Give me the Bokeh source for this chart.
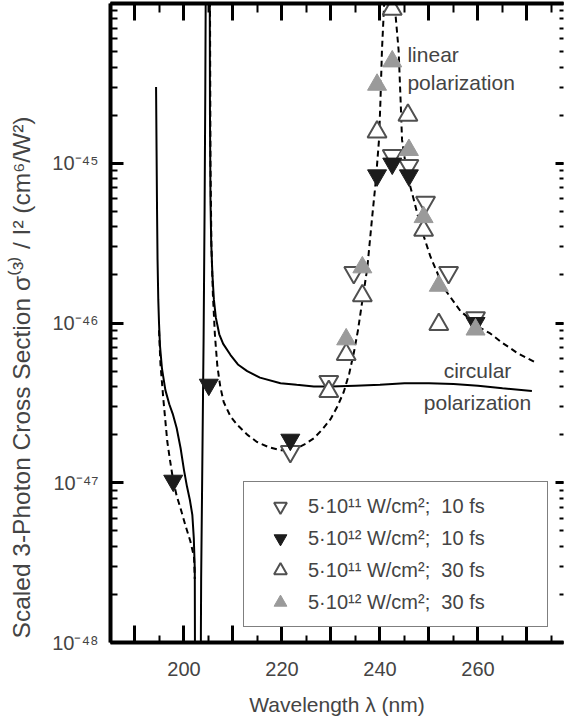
import numpy as np
from bokeh.plotting import figure
from bokeh.models import (Range1d, LinearAxis, LogAxis, LogTicker, SingleIntervalTicker,
                          CustomJSTickFormatter, Legend, LegendItem, Label)
from bokeh.embed import file_html
from bokeh.resources import INLINE

FONT = "Liberation Sans"

# ---------------- data ----------------
# 5e11 W/cm^2, 10 fs (open down triangles)
lam_a = [221.7, 229.55, 234.65, 242.5, 245.9, 249.3, 254.0, 259.5]
sig_a = [1.57e-47, 4.31e-47, 2.07e-46, 1.12e-45, 9.7e-46, 5.7e-46, 2.07e-46, 1.08e-46]
# 5e12 W/cm^2, 10 fs (filled black down triangles)
lam_b = [197.8, 205.06, 221.7, 239.4, 242.5, 245.9, 259.5]
sig_b = [1.03e-47, 4.11e-47, 1.86e-47, 8.4e-46, 9.95e-46, 8.4e-46, 1.0e-46]
# 5e11 W/cm^2, 30 fs (open up triangles)
lam_c = [229.55, 233.1, 236.4, 239.4, 242.5, 245.7, 248.9, 252.0]
sig_c = [3.73e-47, 6.36e-47, 1.48e-46, 1.57e-45, 9.2e-45, 2.0e-45, 3.8e-46, 9.8e-47]
# 5e12 W/cm^2, 30 fs (filled grey up triangles)
lam_d = [233.1, 236.4, 239.4, 242.5, 245.9, 248.9, 252.0, 259.5]
sig_d = [7.9e-47, 2.23e-46, 3.1e-45, 4.34e-45, 1.21e-45, 4.6e-46, 1.71e-46, 9.1e-47]

# theory, circular polarization (solid)
lam_circ = [194.3, 194.4, 194.5, 194.6, 194.75, 194.9, 195.1, 195.5, 196.2, 197.0, 197.7,
            198.5, 199.3, 200.0, 200.6, 201.2, 201.7, 202.0, 202.2, 202.3, 203.4, 203.45,
            203.5, 203.65, 203.8, 204.0, 204.2, 204.35, 204.45, 204.5, 205.2, 205.25, 205.3,
            205.4, 205.55, 205.8, 206.1, 206.5, 207.2, 208.0, 209.5, 211.0, 212.9, 215.5,
            219.7, 223.0, 226.5, 230.0, 235.0, 240.0, 245.0, 250.0, 255.0, 260.0, 265.0, 271.0]
sig_circ = [3e-45, 1.2e-45, 5e-46, 2.5e-46, 1.4e-46, 1.0e-46, 7.2e-47, 5.2e-47, 3.8e-47, 3.1e-47,
            2.7e-47, 2.2e-47, 1.65e-47, 1.2e-47, 9.5e-48, 7.8e-48, 6.3e-48, 4.5e-48, 2.9e-48,
            1e-49, 1e-49, 1.2e-48, 2.5e-48, 7e-48, 2e-47, 8e-47, 5e-46, 3e-45, 1.5e-44, 1e-43,
            1e-43, 1.5e-44, 2e-45, 6e-46, 3.2e-46, 2e-46, 1.4e-46, 1.08e-46, 8.5e-47, 7.4e-47,
            6.3e-47, 5.5e-47, 5.0e-47, 4.55e-47, 4.2e-47, 4.1e-47, 4.0e-47, 4.0e-47, 4.05e-47,
            4.1e-47, 4.2e-47, 4.2e-47, 4.15e-47, 4.05e-47, 3.9e-47, 3.75e-47]

# theory, linear polarization (dashed); NaN separates branches
lam_lin = [194.9, 195.2, 195.8, 196.6, 197.2, 197.8, 198.5, 199.3, 200.3, 201.3, 201.8, 202.05,
           202.2, np.nan,
           205.3, 205.4, 205.6, 205.9, 206.3, 206.8, 207.4, 208.1, 209.5, 210.9, 212.9, 214.9,
           217.3, 219.7, 221.5, 223.1, 224.8, 226.5, 228.2, 229.9, 231.3, 232.6, 233.7, 234.7,
           235.5, 236.4, 237.4, 238.4, 239.1, 239.8, 240.1, 240.4, 240.8, 241.0, 242.0, 243.0,
           243.2, 243.8, 244.2, 244.5, 245.5, 246.9, 248.3, 250.3, 253.0, 256.4, 260.5, 262.5,
           265.0, 268.0, 272.0]
sig_lin = [9e-47, 5.5e-47, 3.3e-47, 1.8e-47, 1.35e-47, 1.03e-47, 8.3e-48, 6.9e-48, 5.4e-48,
           4.3e-48, 3.7e-48, 3.4e-48, 2.5e-48, np.nan,
           1.2e-44, 1e-45, 3e-46, 1.5e-46, 8.5e-47, 5.4e-47, 4.0e-47, 3.2e-47, 2.6e-47, 2.3e-47,
           2.0e-47, 1.8e-47, 1.67e-47, 1.6e-47, 1.6e-47, 1.65e-47, 1.75e-47, 1.9e-47, 2.15e-47,
           2.5e-47, 3.0e-47, 3.7e-47, 4.8e-47, 6.6e-47, 9e-47, 1.38e-46, 2.2e-46, 4.6e-46,
           7.5e-46, 1.4e-45, 2.5e-45, 5.1e-45, 9.2e-45, 1.3e-44, 5e-44, 1.3e-44, 8.3e-45,
           5.1e-45, 2.5e-45, 1.4e-45, 8.6e-46, 5.9e-46, 4.0e-46, 2.6e-46, 1.66e-46, 1.19e-46,
           9.3e-47, 8.6e-47, 7.5e-47, 6.5e-47, 5.6e-47]

legend_labels = ["5·10¹¹ W/cm²;\u00a0 10 fs", "5·10¹² W/cm²;\u00a0 10 fs",
                 "5·10¹¹ W/cm²;\u00a0 30 fs", "5·10¹² W/cm²;\u00a0 30 fs"]

# ---------------- figure ----------------
p = figure(width=566, height=719, x_range=Range1d(185, 277.45), y_range=Range1d(1e-48, 1e-44),
           y_axis_type="log", output_backend="svg", toolbar_location=None,
           min_border_left=110, min_border_right=3, min_border_top=3, min_border_bottom=77)
p.outline_line_color = None
p.grid.visible = False
p.background_fill_color = "white"
p.border_fill_color = "white"

p.line(lam_circ, sig_circ, line_color="black", line_width=2)
p.line(lam_lin, sig_lin, line_color="black", line_width=2, line_dash="6 4")

ra = p.scatter(lam_a, sig_a, marker="inverted_triangle", size=19, fill_color="white",
               line_color="#505050", line_width=2)
rb = p.scatter(lam_b, sig_b, marker="inverted_triangle", size=19, fill_color="#1c1c1c",
               line_color="#1c1c1c", line_width=1)
rc = p.scatter(lam_c, sig_c, marker="triangle", size=19, fill_color="white",
               line_color="#505050", line_width=2)
rd = p.scatter(lam_d, sig_d, marker="triangle", size=19, fill_color="#9a9a9a",
               line_color="#9a9a9a", line_width=1)

# ---------------- axes ----------------
xt = SingleIntervalTicker(interval=10, num_minor_ticks=2)
xfmt = CustomJSTickFormatter(code="return (Math.abs(tick % 20) < 1e-6) ? tick.toFixed(0) : '';")
yfmt = CustomJSTickFormatter(code="""
const e = Math.round(Math.log10(tick));
if (e > -45) { return ''; }
const sup = {'-':'\u207b','0':'\u2070','1':'\u00b9','2':'\u00b2','3':'\u00b3','4':'\u2074',
             '5':'\u2075','6':'\u2076','7':'\u2077','8':'\u2078','9':'\u2079'};
return '10' + String(e).split('').map(c => sup[c]).join('');
""")
blank = CustomJSTickFormatter(code="return '';")

def style(ax, tin, tmin):
    ax.axis_line_width = 4
    ax.axis_line_color = "black"
    ax.major_tick_in = tin
    ax.major_tick_out = 0
    ax.minor_tick_in = tmin
    ax.minor_tick_out = 0
    ax.major_tick_line_width = 3
    ax.minor_tick_line_width = 2
    ax.major_label_text_font = FONT
    ax.major_label_text_font_size = "20px"
    ax.axis_label_text_font = FONT
    ax.axis_label_text_font_style = "normal"

xa = p.xaxis[0]
xa.ticker = xt
xa.formatter = xfmt
style(xa, 17, 7)
xa.major_label_standoff = 19
xa.axis_label = "Wavelength λ (nm)"
xa.axis_label_text_font_size = "21px"
xa.axis_label_standoff = 14

ya = p.yaxis[0]
ya.ticker = LogTicker(num_minor_ticks=10)
ya.formatter = yfmt
style(ya, 13, 7)
ya.major_label_standoff = 12
# trailing no-break spaces shift the centred title toward the bottom, as in the original
ya.axis_label = "Scaled 3-Photon Cross Section σ⁽³⁾ / I² (cm⁶/W²)" + "\u00a0" * 16
ya.axis_label_text_font_size = "24.5px"
ya.axis_label_standoff = 14

top = LinearAxis(ticker=xt, formatter=blank)
style(top, 17, 9)
top.major_label_text_font_size = "1px"
top.major_label_standoff = 0
p.add_layout(top, "above")

right = LogAxis(ticker=LogTicker(num_minor_ticks=10), formatter=blank)
style(right, 8, 4)
right.axis_line_color = None
right.major_label_text_font_size = "1px"
right.major_label_standoff = 0
p.add_layout(right, "right")

for txt, yy in [("linear", 4.80e-45), ("polarization", 3.20e-45)]:
    p.add_layout(Label(x=245.6, y=yy, text=txt, text_font=FONT, text_font_size="21px",
                       text_align="left", text_baseline="middle"))
for txt, yy in [("circular", 5.05e-47), ("polarization", 3.20e-47)]:
    p.add_layout(Label(x=259.9, y=yy, text=txt, text_font=FONT, text_font_size="21px",
                       text_align="center", text_baseline="middle"))

legend = Legend(items=[LegendItem(label=l, renderers=[r]) for l, r in
                       zip(legend_labels, [ra, rb, rc, rd])],
                location=(133, 15), padding=8, spacing=0, glyph_height=32, glyph_width=56,
                label_standoff=0, label_width=231, margin=0,
                label_text_font=FONT, label_text_font_size="20px",
                border_line_color="black", border_line_width=1.5,
                background_fill_color="white", background_fill_alpha=1.0)
p.add_layout(legend)

open("out.html", "w", encoding="utf-8").write(file_html(p, INLINE))
